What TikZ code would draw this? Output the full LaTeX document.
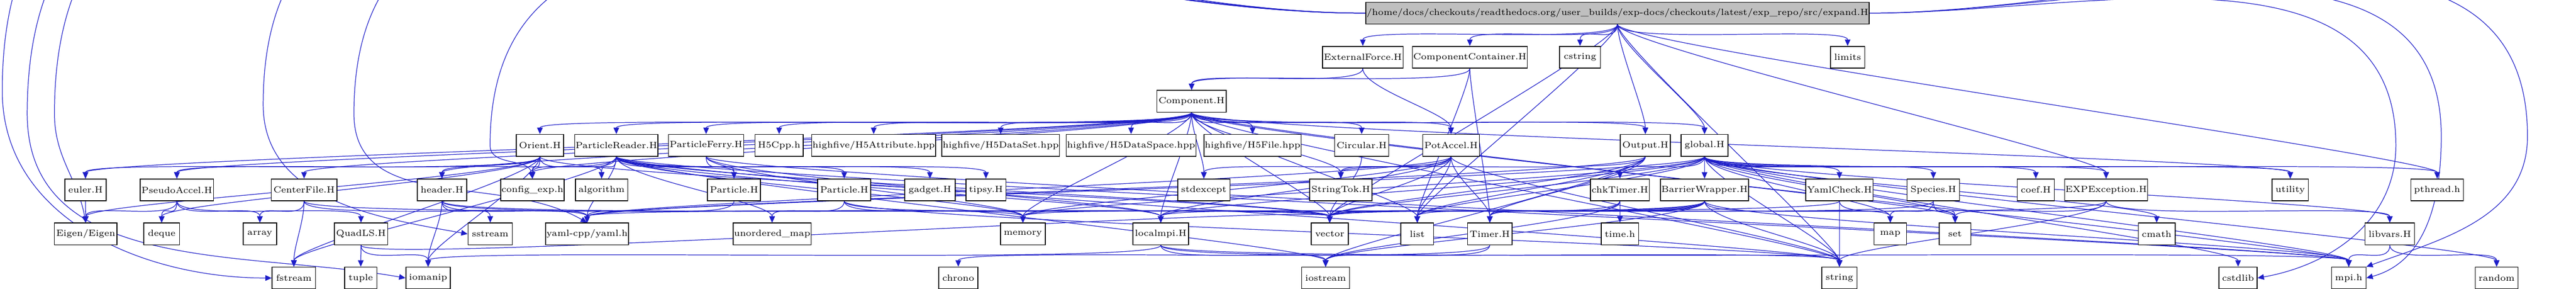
\documentclass[tikz,border=0pt]{standalone}
\usetikzlibrary{arrows.meta}
\definecolor{edgeblue}{RGB}{30,30,200}
\definecolor{topgray}{RGB}{191,191,191}
\pgfdeclarelayer{bg}
\pgfsetlayers{bg,main}
\tikzset{
  box/.style={draw=black,fill=white,line width=0.5pt,minimum height=0.48cm,inner sep=0.5pt,font=\fontsize{5.6}{6.5}\selectfont},
  e/.style={draw=edgeblue,line width=0.4pt,-{Triangle[length=4pt,width=3.5pt]}},
}
\newcommand\nd[6][]{\node[box,#1,minimum width={(#4-#3)*0.01cm}] (#2) at ({(#3+#4)/2*0.01},{-#5*0.01}) {#6};}
\newcommand\ed[2]{\draw[e] (#1.south) .. controls +(0,-0.45) and +(0,0.45) .. (#2.north);}
\newcommand\eds[2]{\foreach \t in {#2} {\ed{#1}{\t}}}
\begin{document}
\begin{tikzpicture}
\useasboundingbox (0,0) rectangle (56.77,-6.35);
% row 0
\nd[fill=topgray]{top}{3077}{4056}{29}{/home/docs/checkouts/readthedocs.org/user\_builds/exp-docs/checkouts/latest/exp\_repo/src/expand.H}
% row 1
\nd{ext}{2916}{3094}{126}{ExternalForce.H}
\nd{cc}{3119}{3363}{126}{ComponentContainer.H}
\nd{cstring}{3439}{3529}{126}{cstring}
\nd{limits}{4036}{4112}{126}{limits}
% row 2
\nd{comp}{2551}{2704}{223}{Component.H}
% row 3
\nd{orient}{1138}{1243}{320}{Orient.H}
\nd{preader}{1268}{1450}{320}{ParticleReader.H}
\nd{pferry}{1474}{1640}{320}{ParticleFerry.H}
\nd{h5cpp}{1665}{1771}{320}{H5Cpp.h}
\nd{h5attr}{1796}{2057}{320}{highfive/H5Attribute.hpp}
\nd{h5ds}{2081}{2332}{320}{highfive/H5DataSet.hpp}
\nd{h5dsp}{2356}{2632}{320}{highfive/H5DataSpace.hpp}
\nd{h5file}{2657}{2867}{320}{highfive/H5File.hpp}
\nd{circ}{2943}{3062}{320}{Circular.H}
\nd{pot}{3137}{3262}{320}{PotAccel.H}
\nd{output}{3573}{3683}{320}{Output.H}
\nd{global}{3707}{3810}{320}{global.H}
% row 4
\nd{euler}{143}{234}{418}{euler.H}
\nd{pseudo}{309}{471}{418}{PseudoAccel.H}
\nd{center}{598}{743}{418}{CenterFile.H}
\nd{header}{920}{1029}{418}{header.H}
\nd{config}{1104}{1244}{418}{config\_exp.h}
\nd{algo}{1269}{1384}{418}{algorithm}
\nd{part1}{1560}{1677}{418}{Particle.H}
\nd{part2}{1803}{1920}{418}{Particle.H}
\nd{gadget}{1995}{2106}{418}{gadget.H}
\nd{tipsy}{2130}{2218}{418}{tipsy.H}
\nd{stdexc}{2597}{2712}{418}{stdexcept}
\nd{strtok}{2888}{3025}{418}{StringTok.H}
\nd{chk}{3507}{3637}{418}{chkTimer.H}
\nd{barrier}{3662}{3855}{418}{BarrierWrapper.H}
\nd{yamlchk}{3982}{4130}{418}{YamlCheck.H}
\nd{species}{4205}{4321}{418}{Species.H}
\nd{coef}{4448}{4530}{418}{coef.H}
\nd{expexc}{4555}{4733}{418}{EXPException.H}
\nd{utility}{5010}{5090}{418}{utility}
\nd{pthread}{5316}{5432}{418}{pthread.h}
% row 5
\nd{eigen}{120}{258}{515}{Eigen/Eigen}
\nd{deque}{317}{396}{515}{deque}
\nd{array}{536}{610}{515}{array}
\nd{quad}{737}{855}{515}{QuadLS.H}
\nd{sstream}{1032}{1130}{515}{sstream}
\nd{yaml}{1205}{1384}{515}{yaml-cpp/yaml.h}
\nd{umap}{1617}{1788}{515}{unordered\_map}
\nd{memory}{2206}{2305}{515}{memory}
\nd{lmpi}{2498}{2621}{515}{localmpi.H}
\nd{vector}{2891}{2973}{515}{vector}
\nd{list}{3089}{3161}{515}{list}
\nd{timer}{3236}{3334}{515}{Timer.H}
\nd{timeh}{3531}{3613}{515}{time.h}
\nd{map}{4132}{4204}{515}{map}
\nd{set}{4276}{4346}{515}{set}
\nd{cmath}{4715}{4796}{515}{cmath}
\nd{libvars}{5215}{5324}{515}{libvars.H}
% row 6
\nd{fstream}{600}{696}{612}{fstream}
\nd{tuple}{760}{831}{612}{tuple}
\nd{iomanip}{895}{993}{612}{iomanip}
\nd{chrono}{2070}{2156}{612}{chrono}
\nd{iostream}{2870}{2976}{612}{iostream}
\nd{string}{4017}{4095}{612}{string}
\nd{cstdlib}{4893}{4977}{612}{cstdlib}
\nd{mpi}{5141}{5217}{612}{mpi.h}
\nd{random}{5458}{5552}{612}{random}
\begin{pgfonlayer}{bg}
\eds{top}{ext,cc,cstring,global,output,limits,expexc,pthread,list,vector,string}
\draw[e] (top.east) to[out=0,in=90] (53.8,-3.0) to[out=-90,in=15] (mpi.east);
\draw[e] (top.east) to[out=0,in=90] (52.8,-3.2) to[out=-90,in=10] (cstdlib.east);
\draw[e] (top.east) to[out=0,in=90] (55.7,-3.0) to[out=-90,in=20] (mpi.north east);
\draw[e] (top.west) to[out=180,in=90] (0.05,-2.0) to[out=-90,in=180] (fstream.west);
\draw[e] (top.west) to[out=180,in=90] (0.6,-2.5) to[out=-90,in=170] (iomanip.west);
\draw[e] (top.west) to[out=180,in=90] (1.2,-2.5) to[out=-90,in=100] (eigen.north);
\draw[e] (top.west) to[out=180,in=90] (5.8,-2.3) to[out=-90,in=170] (sstream.west);
\draw[e] (top.west) to[out=180,in=90] (7.8,-2.5) to[out=-90,in=150] (yaml.north);
\draw[e] (top.west) to[out=180,in=90] (10.8,-3.2) to[out=-90,in=100] (config.north);
\eds{ext}{comp,pot}
\eds{cc}{comp,timer,list}
\eds{comp}{orient,preader,pferry,h5cpp,h5attr,h5ds,h5dsp,h5file,circ,pot,output,global,header,config,center,pseudo,euler,strtok,stdexc,utility,memory,vector,list,set,string,mpi,lmpi}
\eds{orient}{euler,pseudo,config,algo,eigen,deque,fstream,iomanip,vector}
\eds{preader}{header,config,algo,part1,part2,gadget,tipsy,umap,memory,lmpi,yaml,iostream,fstream,vector,string,mpi}
\eds{pferry}{part1,lmpi,memory,mpi}
\eds{part2}{umap,memory,string,vector}
\eds{part1}{yaml}
\eds{pseudo}{eigen,deque,array,quad}
\eds{center}{array,fstream,yaml,vector}
\eds{quad}{tuple,iomanip,vector}
\eds{header}{sstream,iomanip,yaml,vector,memory}
\eds{euler}{eigen}
\eds{circ}{vector}
\eds{pot}{strtok,yaml,memory,lmpi,vector,list,string,stdexc,timer}
\eds{output}{strtok,yaml,vector,timer,list,iostream}
\eds{global}{chk,barrier,yamlchk,species,coef,expexc,utility,lmpi,memory,yaml,vector,string,set,map,list,random,mpi,cstdlib,cmath,libvars,pthread}
\eds{chk}{timeh,timer,vector,iostream}
\eds{barrier}{list,vector,timer,lmpi,iostream,string,mpi,map,memory}
\eds{timer}{chrono,iostream}
\eds{lmpi}{mpi,iostream,iomanip,string}
\eds{yamlchk}{string,set,yaml}
\eds{species}{map,set,vector}
\eds{expexc}{set,string,libvars,vector}
\eds{libvars}{mpi,random}
\end{pgfonlayer}
\end{tikzpicture}
\end{document}
